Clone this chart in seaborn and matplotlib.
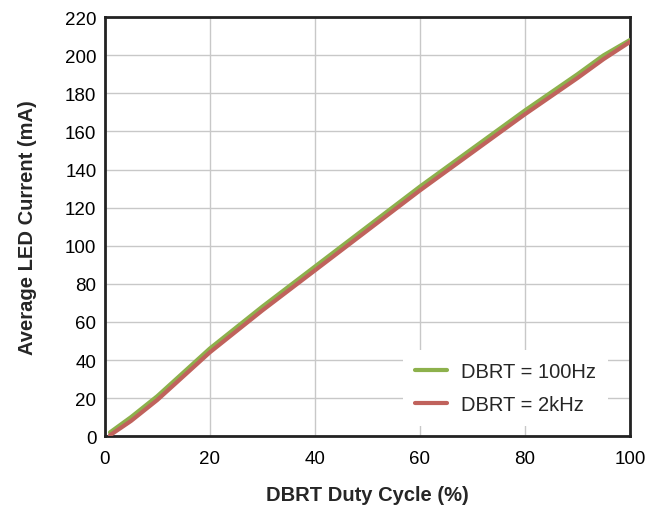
import matplotlib
matplotlib.use("Agg")
import matplotlib.pyplot as plt
import seaborn as sns
import pandas as pd

duty = [1, 5, 10, 20, 30, 40, 50, 60, 70, 80, 90, 95, 100]
i_100hz = [2, 10, 21, 46, 68, 89, 110, 131, 151, 171, 190, 200, 208]
i_2khz = [0.5, 8, 19, 44, 66, 87, 108, 129, 149, 169, 188, 198, 207]
series = ["DBRT = 100Hz", "DBRT = 2kHz"]
colors = ["#8DB14C", "#C0625C"]

df = pd.concat([
    pd.DataFrame({"duty": duty, "cur": i_100hz, "s": series[0]}),
    pd.DataFrame({"duty": duty, "cur": i_2khz, "s": series[1]}),
])

sns.set_style("white")
plt.rcParams["font.family"] = ["Liberation Sans", "DejaVu Sans"]

fig = plt.figure(figsize=(6.63, 5.06), dpi=100)
ax = fig.add_axes([0.158, 0.136, 0.792, 0.828])
sns.lineplot(data=df, x="duty", y="cur", hue="s", hue_order=series,
             palette=colors, linewidth=3, ax=ax, zorder=3)

ax.set_xlim(0, 100)
ax.set_ylim(0, 220)
ax.set_xticks(range(0, 101, 20))
ax.set_yticks(range(0, 221, 20))
ax.tick_params(labelsize=13.5, length=0, colors="black")
ax.tick_params(axis="x", pad=10)
ax.tick_params(axis="y", pad=6)
ax.grid(True, color="#C8C8C8", linewidth=1)
for sp in ax.spines.values():
    sp.set_visible(True)
    sp.set_color("#222222")
    sp.set_linewidth(2)
ax.set_xlabel("DBRT Duty Cycle (%)", fontsize=14.5, fontweight="bold", labelpad=13)
ax.set_ylabel("Average LED Current (mA)", fontsize=14.5, fontweight="bold", labelpad=20)

leg = ax.legend(loc="lower right", bbox_to_anchor=(0.978, 0.0), fontsize=14.5,
                frameon=True, framealpha=1, edgecolor="white", fancybox=False,
                handlelength=1.6, handletextpad=0.7, labelspacing=0.7, borderpad=0.6)
leg.get_frame().set_linewidth(0)

fig.savefig("out.png", dpi=100)
